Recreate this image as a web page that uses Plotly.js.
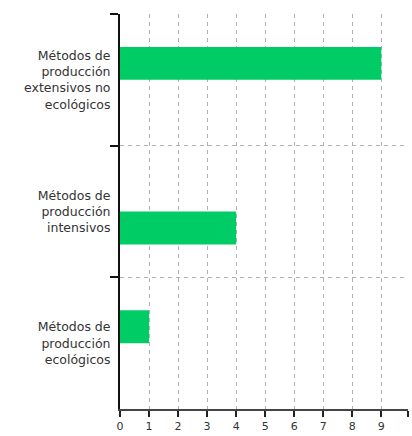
<!DOCTYPE html>
<html>
<head>
<meta charset="utf-8">
<script src="https://cdn.plot.ly/plotly-3.0.1.min.js"></script>
<style>
  html, body { margin: 0; padding: 0; background: #ffffff; }
  #chart { width: 412px; height: 436px; }
</style>
</head>
<body>
<div id="chart"></div>
<script>
// Categories, listed top to bottom as shown
const categories = [
  "Métodos de<br>producción<br>extensivos no<br>ecológicos",
  "Métodos de<br>producción<br>intensivos",
  "Métodos de<br>producción<br>ecológicos"
];
// Two series as drawn (upper / lower slot of each category band)
const seriesUpper = [9, null, 1];
const seriesLower = [null, 4, null];
const xTickVals = [0, 1, 2, 3, 4, 5, 6, 7, 8, 9];
const xTickText = ["0", "1", "2", "3", "4", "5", "6", "7", "8", "9"];

const green = "#00cc66";
const font = { family: "DejaVu Sans, sans-serif", size: 12.5, color: "#333333" };

const traces = [
  { type: "bar", orientation: "h", y: categories, x: seriesUpper,
    marker: { color: green }, hoverinfo: "skip", showlegend: false },
  { type: "bar", orientation: "h", y: categories, x: seriesLower,
    marker: { color: green }, hoverinfo: "skip", showlegend: false }
];

const layout = {
  width: 412, height: 436,
  margin: { l: 120, r: 4, t: 14, b: 27 },
  paper_bgcolor: "#ffffff", plot_bgcolor: "#ffffff",
  barmode: "group", bargap: 0.5, bargroupgap: 0,
  font: font,
  showlegend: false,
  xaxis: {
    range: [0, 9.92],
    tickmode: "array", tickvals: xTickVals, ticktext: xTickText,
    ticks: "outside", ticklen: 6, tickwidth: 2, tickcolor: "#222222",
    showline: true, linecolor: "#444444", linewidth: 1.5,
    showgrid: true, gridcolor: "#b0b0b0", gridwidth: 1, griddash: "4px,4px",
    zeroline: false,
    tickfont: { family: "DejaVu Sans, sans-serif", size: 11, color: "#333333" },
    minor: { tickmode: "array", tickvals: [9.92], ticks: "outside", ticklen: 6,
             tickwidth: 2, tickcolor: "#222222", showgrid: false },
    fixedrange: true
  },
  yaxis: {
    type: "category",
    autorange: "reversed",
    tickson: "boundaries",
    ticks: "outside", ticklen: 8, tickwidth: 2, tickcolor: "#111111",
    ticklabelstandoff: 5,
    showline: true, linecolor: "#111111", linewidth: 2,
    showgrid: true, gridcolor: "#b0b0b0", gridwidth: 1, griddash: "4px,4px",
    zeroline: false,
    tickfont: font,
    fixedrange: true
  }
};

Plotly.newPlot("chart", traces, layout, { displayModeBar: false, staticPlot: true });
</script>
</body>
</html>
